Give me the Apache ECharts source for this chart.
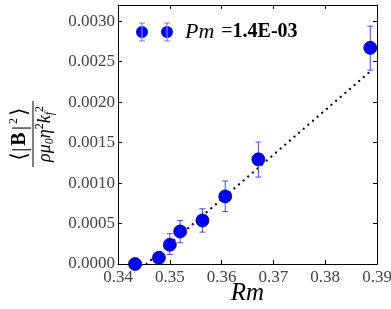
<!DOCTYPE html>
<html>
<head>
<meta charset="utf-8">
<script src="https://cdn.jsdelivr.net/npm/echarts@6/dist/echarts.min.js"></script>
<style>
  html, body { margin: 0; padding: 0; background: #fff; }
  #main { width: 391px; height: 309px; }
</style>
</head>
<body>
<div id="main"></div>
<script>
// data
const rm = [0.3433, 0.3479, 0.3500, 0.3520, 0.3563, 0.3607, 0.3671, 0.3887];
const energy = [0.0000, 0.000077, 0.000238, 0.000402, 0.000538, 0.000835, 0.001293, 0.002671];
const errUpper = [0.00002, 0.00012, 0.000374, 0.000538, 0.000683, 0.001025, 0.001507, 0.002939];
const errLower = [-0.00002, 0.00003, 0.000118, 0.000262, 0.000394, 0.00065, 0.001074, 0.002395];
// dotted fit line
const fitRm = [0.3455, 0.3887];
const fitVal = [0.0, 0.00238];

const xTicks = { min: 0.34, max: 0.39, interval: 0.01 };
const yTicks = { min: 0, max: 0.0032, interval: 0.0005 };

const serif = '"Liberation Serif", "DejaVu Serif", serif';

let myChart = echarts.init(document.getElementById('main'), null, { renderer: 'canvas' });

const points = rm.map((x, i) => [x, energy[i]]);
const bars = rm.map((x, i) => [x, errLower[i], errUpper[i]]);
const fit = fitRm.map((x, i) => [x, fitVal[i]]);

// two markers with error bars, like the matplotlib legend (numpoints=2)
const legendIcon = 'path://M0,10a6,6 0 1,0 12,0a6,6 0 1,0 -12,0z' +
  'M25,10a6,6 0 1,0 12,0a6,6 0 1,0 -12,0z' +
  'M5.7,1h0.6v18h-0.6z M3,0.7h6v0.6h-6z M3,18.7h6v0.6h-6z' +
  'M30.7,1h0.6v18h-0.6z M28,0.7h6v0.6h-6z M28,18.7h6v0.6h-6z';

const tickStyle = { inside: true, length: 4, lineStyle: { color: '#000', width: 1 } };

var option = {
  animation: false,
  backgroundColor: '#fff',
  grid: { left: 118, right: 14, top: 5, bottom: 45, outerBoundsMode: 'none' },
  legend: {
    left: 136, top: 21, padding: 0,
    data: [{ name: 'Pm', icon: legendIcon }],
    itemWidth: 37, itemHeight: 19,
    itemStyle: { color: '#0000ff', borderWidth: 0 },
    formatter: () => '{i|Pm}{n|=}{b|1.4E-03}',
    textStyle: {
      rich: {
        i: { fontFamily: serif, fontStyle: 'italic', fontSize: 22, color: '#000', padding: [0, 7, 0, 7] },
        n: { fontFamily: serif, fontSize: 20, color: '#000' },
        b: { fontFamily: serif, fontSize: 20, fontWeight: 'bold', color: '#000' }
      }
    }
  },
  xAxis: [
    {
      type: 'value', min: xTicks.min, max: xTicks.max, interval: xTicks.interval,
      name: 'Rm', nameLocation: 'middle', nameGap: 17, nameMoveOverlap: false,
      nameTextStyle: { fontFamily: serif, fontStyle: 'italic', fontSize: 25, color: '#000', verticalAlign: 'top' },
      axisLine: { onZero: false, lineStyle: { color: '#000', width: 1 } },
      axisTick: tickStyle,
      axisLabel: { fontFamily: serif, fontSize: 17, color: '#444', margin: 5, formatter: v => v.toFixed(2) },
      splitLine: { show: false }
    },
    {
      type: 'value', position: 'top', min: xTicks.min, max: xTicks.max, interval: xTicks.interval,
      axisLine: { onZero: false, lineStyle: { color: '#000', width: 1 } },
      axisTick: tickStyle, axisLabel: { show: false }, splitLine: { show: false }
    }
  ],
  yAxis: [
    {
      type: 'value', min: yTicks.min, max: yTicks.max, interval: yTicks.interval,
      axisLine: { show: true, onZero: false, lineStyle: { color: '#000', width: 1 } },
      axisTick: tickStyle,
      axisLabel: { fontFamily: serif, fontSize: 17, color: '#444', margin: 3, showMaxLabel: false, formatter: v => v.toFixed(4) },
      splitLine: { show: false }
    },
    {
      type: 'value', position: 'right', min: yTicks.min, max: yTicks.max, interval: yTicks.interval,
      axisLine: { show: true, onZero: false, lineStyle: { color: '#000', width: 1 } },
      axisTick: tickStyle, axisLabel: { show: false }, splitLine: { show: false }
    }
  ],
  graphic: [
    {
      // y axis title, a fraction drawn bottom-to-top
      type: 'group', x: 33, y: 134,
      rotation: Math.PI / 2,
      children: [
        {
          type: 'text', x: 0, y: -1, z: 10,
          style: {
            text: '{t|⟨|}{b|B}{t||}{s|2}{t|⟩}',
            align: 'center', verticalAlign: 'bottom',
            rich: {
              t: { fontFamily: serif, fontSize: 22, color: '#000', lineHeight: 24, padding: [0, 2] },
              b: { fontFamily: serif, fontSize: 20, fontWeight: 'bold', color: '#000', lineHeight: 24 },
              s: { fontFamily: serif, fontSize: 12, color: '#000', verticalAlign: 'top', lineHeight: 24 }
            }
          }
        },
        {
          type: 'line', z: 10,
          shape: { x1: -33, y1: 0, x2: 33, y2: 0 },
          style: { stroke: '#000', lineWidth: 1 }
        },
        {
          type: 'text', x: 0, y: 1, z: 10,
          style: {
            text: '{m|ρμ}{d|0}{m|η}{u|2}{m|k}{d|f}{u|2}',
            align: 'center', verticalAlign: 'top',
            rich: {
              m: { fontFamily: serif, fontStyle: 'italic', fontSize: 18, color: '#000', lineHeight: 22 },
              d: { fontFamily: serif, fontStyle: 'italic', fontSize: 12, color: '#000', verticalAlign: 'bottom', lineHeight: 22 },
              u: { fontFamily: serif, fontSize: 12, color: '#000', verticalAlign: 'top', lineHeight: 22 }
            }
          }
        }
      ]
    }
  ],
  series: [
    {
      name: 'fit', type: 'line', data: fit, symbol: 'none', z: 1,
      lineStyle: { color: '#000', width: 2.2, type: [0.1, 6], cap: 'round' }
    },
    {
      name: 'err', type: 'custom', data: bars, z: 2,
      renderItem: function (params, api) {
        const x = api.value(0);
        const lo = api.coord([x, api.value(1)]);
        const hi = api.coord([x, api.value(2)]);
        const c = '#4b4bf0';
        return {
          type: 'group',
          children: [
            { type: 'line', shape: { x1: lo[0], y1: lo[1], x2: hi[0], y2: hi[1] }, style: { stroke: c, lineWidth: 1 } },
            { type: 'line', shape: { x1: hi[0] - 3, y1: hi[1], x2: hi[0] + 3, y2: hi[1] }, style: { stroke: c, lineWidth: 1 } },
            { type: 'line', shape: { x1: lo[0] - 3, y1: lo[1], x2: lo[0] + 3, y2: lo[1] }, style: { stroke: c, lineWidth: 1 } }
          ]
        };
      }
    },
    {
      name: 'Pm', type: 'scatter', data: points, z: 3,
      symbolSize: 13,
      itemStyle: { color: '#0000ff', borderColor: '#00006a', borderWidth: 0.8, opacity: 1 }
    }
  ]
};

if (option && typeof option === 'object') {
  myChart.setOption(option);
}

window.addEventListener('resize', myChart.resize);
</script>
</body>
</html>
